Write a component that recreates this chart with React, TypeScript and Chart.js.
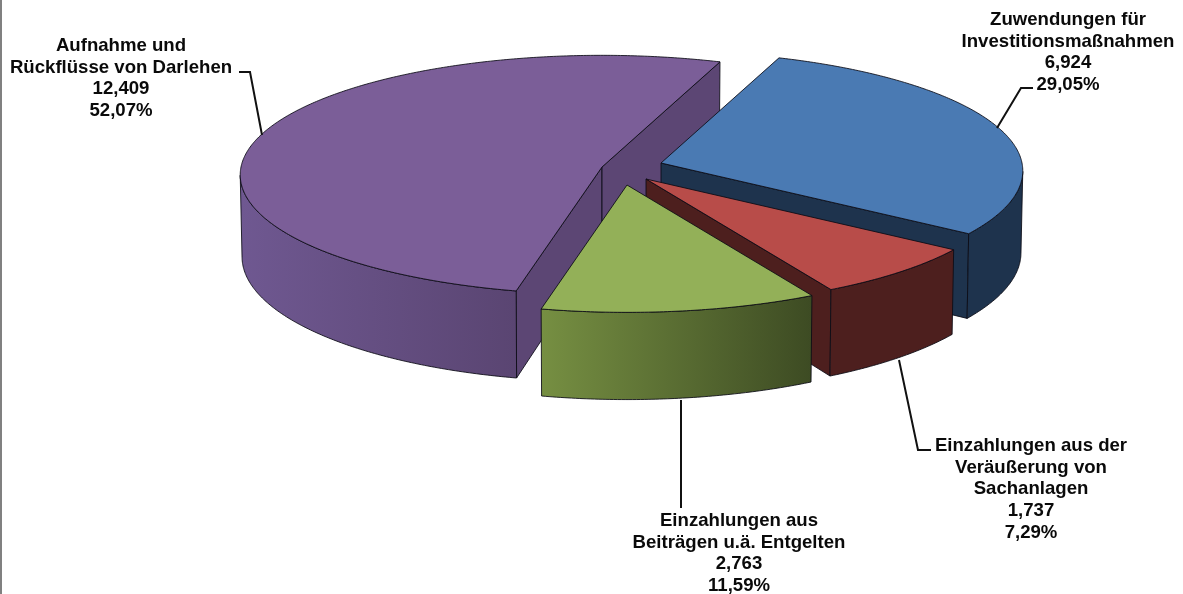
import { useEffect, useRef } from "react";
import { Chart, registerables } from "chart.js";

Chart.register(...registerables);

// Cash inflows by source
const nameLines = [
  ["Zuwendungen für", "Investitionsmaßnahmen"],
  ["Einzahlungen aus der", "Veräußerung von", "Sachanlagen"],
  ["Einzahlungen aus", "Beiträgen u.ä. Entgelten"],
  ["Aufnahme und", "Rückflüsse von Darlehen"],
];
const amounts = [6924, 1737, 2763, 12409];

// Slice colours: top face, rim gradient start and end, cut wall
const topColors = ["#4A7AB3", "#B84C49", "#93B058", "#7B5E98"];
const rimStart = ["#1E334D", "#4D1F1E", "#768F42", "#6F5891"];
const rimEnd = ["#1E334D", "#4D1F1E", "#3D4B23", "#5A4572"];
const wallColors = ["#1E334D", "#4D1F1E", "#4D1F1E", "#5C4674"];

// Painting order, back to front
const paintOrder = [3, 0, 1, 2];

// Tilted-disc projection
const view = { cx: 632, cy: 166, rx: 361, ry: 119, depth: 81.5, perspective: 0.0656, taper: 0.005 };
// Explosion of each slice, in canvas pixels
const explodeX = [29, 14, -5, -30];
const explodeY = [-3, 13, 19, 1];

// Label blocks: centre x, first baseline, leader polyline
const labelX = [1068, 1031, 739, 121];
const labelY = [25, 451, 526, 51];
const leaders = [
  [[1033, 88], [1021, 88], [997, 128]],
  [[899, 360], [918, 450], [931, 450]],
  [[681, 400], [681, 508]],
  [[239, 72], [250, 72], [262, 135]],
];

const LINE_HEIGHT = 21.7;
const EDGE = "rgba(10,10,20,0.85)";

const pct = (v: number, sum: number) => ((v / sum) * 100).toFixed(2).replace(".", ",") + "%";
const thousands = (v: number) => String(v).replace(/\B(?=(\d{3})+$)/g, ",");

function project(i: number, angle: number, radial: number, z: number) {
  const u = Math.cos(angle) * radial;
  const v = Math.sin(angle) * radial;
  const s = 1 / (1 - view.perspective * v);
  const k = s * (1 - view.taper * z);
  return {
    x: view.cx + explodeX[i] + view.rx * u * k,
    y: view.cy + explodeY[i] + view.ry * v * s + view.depth * z * s,
  };
}

function trace(ctx: CanvasRenderingContext2D, pts: { x: number; y: number }[]) {
  ctx.beginPath();
  pts.forEach((p, n) => (n ? ctx.lineTo(p.x, p.y) : ctx.moveTo(p.x, p.y)));
  ctx.closePath();
}

function paintShape(ctx: CanvasRenderingContext2D, pts: { x: number; y: number }[], fill: string | CanvasGradient) {
  trace(ctx, pts);
  ctx.fillStyle = fill;
  ctx.fill();
  ctx.strokeStyle = EDGE;
  ctx.lineWidth = 1;
  ctx.stroke();
}

function drawSlice(ctx: CanvasRenderingContext2D, i: number, start: number, end: number) {
  const steps = Math.max(4, Math.ceil((end - start) / 0.01));
  const angles: number[] = [];
  for (let n = 0; n <= steps; n++) angles.push(start + ((end - start) * n) / steps);

  // Cut walls that face the viewer
  const wall = (a: number) => [
    project(i, a, 0, 0),
    project(i, a, 1, 0),
    project(i, a, 1, 1),
    project(i, a, 0, 1),
  ];
  if (-Math.cos(start) > 0) paintShape(ctx, wall(start), wallColors[i]);
  if (Math.cos(end) > 0) paintShape(ctx, wall(end), wallColors[i]);

  // Outer rim, from one silhouette tangent of the tilted disc to the other
  const front = angles.filter((a) => Math.sin(a) >= view.perspective);
  if (front.length > 1) {
    const topEdge = front.map((a) => project(i, a, 1, 0));
    const bottomEdge = front.map((a) => project(i, a, 1, 1)).reverse();
    const xs = topEdge.map((p) => p.x);
    const grad = ctx.createLinearGradient(Math.min(...xs), 0, Math.max(...xs), 0);
    grad.addColorStop(0, rimStart[i]);
    grad.addColorStop(1, rimEnd[i]);
    paintShape(ctx, [...topEdge, ...bottomEdge], grad);
  }

  // Top face
  paintShape(ctx, [project(i, start, 0, 0), ...angles.map((a) => project(i, a, 1, 0))], topColors[i]);
}

const tiltedPie = {
  id: "tiltedPie",
  beforeDatasetsDraw(chart: Chart) {
    const ctx = chart.ctx;
    const arcs = chart.getDatasetMeta(0).data as any[];
    ctx.save();
    ctx.lineJoin = "round";
    paintOrder.forEach((i) => drawSlice(ctx, i, arcs[i].startAngle, arcs[i].endAngle));
    ctx.restore();
    return false;
  },
  afterDraw(chart: Chart) {
    const ctx = chart.ctx;
    const total = amounts.reduce((a, b) => a + b, 0);
    ctx.save();

    // Frame line on the left edge
    ctx.fillStyle = "#808080";
    ctx.fillRect(0, 0, 2, chart.height);

    ctx.strokeStyle = "#111";
    ctx.lineWidth = 2;
    leaders.forEach((line) => {
      ctx.beginPath();
      line.forEach(([x, y], n) => (n ? ctx.lineTo(x, y) : ctx.moveTo(x, y)));
      ctx.stroke();
    });

    ctx.fillStyle = "#0a0a0a";
    ctx.font = 'bold 18.6px "Liberation Sans", Arial, sans-serif';
    ctx.textAlign = "center";
    ctx.textBaseline = "alphabetic";
    amounts.forEach((v, i) => {
      const lines = [...nameLines[i], thousands(v), pct(v, total)];
      lines.forEach((text, n) => ctx.fillText(text, labelX[i], labelY[i] + n * LINE_HEIGHT));
    });
    ctx.restore();
  },
};

export default function App() {
  const ref = useRef<HTMLCanvasElement>(null);

  useEffect(() => {
    const chart = new Chart(ref.current!, {
      type: "pie",
      data: {
        labels: nameLines.map((l) => l.join(" ")),
        datasets: [{ data: amounts, backgroundColor: topColors }],
      },
      options: {
        responsive: false,
        animation: false,
        rotation: 20.3,
        plugins: { legend: { display: false }, tooltip: { enabled: false } },
      },
      plugins: [tiltedPie],
    });
    return () => chart.destroy();
  }, []);

  return (
    <div style={{ position: "fixed", inset: 0, background: "#fff" }}>
      <canvas ref={ref} width={1183} height={594} style={{ display: "block" }} />
    </div>
  );
}
